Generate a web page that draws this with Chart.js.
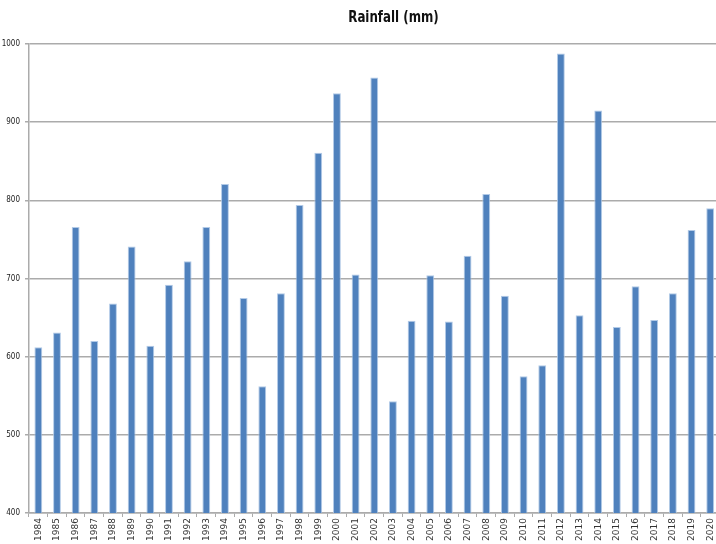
<!DOCTYPE html>
<html>
<head>
<meta charset="utf-8">
<script src="https://cdn.jsdelivr.net/npm/chart.js@4"></script>
<style>
    html, body { margin: 0; padding: 0; background: #fff; overflow: hidden; }
    #wrap { width: 722px; height: 544px; }
</style>
</head>
<body>
<div id="wrap"><canvas id="rain-chart" width="722" height="544"></canvas></div>
<script>
const years = ['1984', '1985', '1986', '1987', '1988', '1989', '1990', '1991', '1992', '1993',
    '1994', '1995', '1996', '1997', '1998', '1999', '2000', '2001', '2002', '2003',
    '2004', '2005', '2006', '2007', '2008', '2009', '2010', '2011', '2012', '2013',
    '2014', '2015', '2016', '2017', '2018', '2019', '2020'];

const rainfall = [612, 631, 766, 620, 668, 741, 614, 692, 722, 766,
    821, 675, 562, 681, 794, 861, 937, 705, 957, 543,
    646, 704, 645, 729, 808, 678, 575, 589, 988, 653,
    915, 638, 690, 647, 681, 762, 790];

const yMin = 400;
const yMax = 1000;
const yStep = 100;

const chartTitle = 'Rainfall (mm)';

document.addEventListener('DOMContentLoaded', () => {
    const gridGray = '#ababab';
    const narrowFont = '"DejaVu Sans Condensed", "DejaVu Sans", sans-serif';

    // titulo desenhado a mao: estreito e deslocado para a direita como no original
    const titlePlugin = {
        id: 'rainTitle',
        afterDraw(chart) {
            const ctx = chart.ctx;
            ctx.save();
            ctx.font = 'bold 16px "DejaVu Sans", sans-serif';
            ctx.fillStyle = '#111';
            ctx.textAlign = 'center';
            ctx.textBaseline = 'alphabetic';
            ctx.translate(393.5, 22);
            ctx.scale(0.74, 1);
            ctx.fillText(chartTitle, 0, 0);
            ctx.restore();
        }
    };

    const ctx = document.getElementById('rain-chart').getContext('2d');
    new Chart(ctx, {
        type: 'bar',
        data: {
            labels: years,
            datasets: [{
                label: chartTitle,
                data: rainfall,
                backgroundColor: '#4f81bd',
                borderColor: 'rgba(170, 196, 228, 0.9)',
                borderWidth: 1,
                borderSkipped: 'bottom',
                barPercentage: 0.42,
                categoryPercentage: 1
            }]
        },
        options: {
            responsive: false,
            animation: false,
            devicePixelRatio: 1,
            layout: {
                padding: { top: 44, right: 1, bottom: 0, left: 0 }
            },
            plugins: {
                legend: { display: false },
                tooltip: { enabled: false }
            },
            scales: {
                x: {
                    grid: {
                        offset: true,
                        drawOnChartArea: false,
                        tickLength: 4,
                        color: gridGray,
                        lineWidth: 1
                    },
                    border: { color: gridGray, width: 1.5 },
                    ticks: {
                        autoSkip: false,
                        minRotation: 90,
                        maxRotation: 90,
                        padding: 1,
                        color: '#333',
                        font: { family: '"DejaVu Sans", sans-serif', size: 9 }
                    },
                    afterFit(scale) { scale.height = 31; }
                },
                y: {
                    min: yMin,
                    max: yMax,
                    ticks: {
                        stepSize: yStep,
                        padding: 5,
                        color: '#222',
                        font: { family: narrowFont, size: 8 },
                        callback: (value) => String(value)
                    },
                    grid: {
                        tickLength: 4,
                        color: gridGray,
                        lineWidth: 1.5
                    },
                    border: { color: gridGray, width: 1.5 },
                    afterFit(scale) { scale.width = 29; }
                }
            }
        },
        plugins: [titlePlugin]
    });
});
</script>
</body>
</html>
